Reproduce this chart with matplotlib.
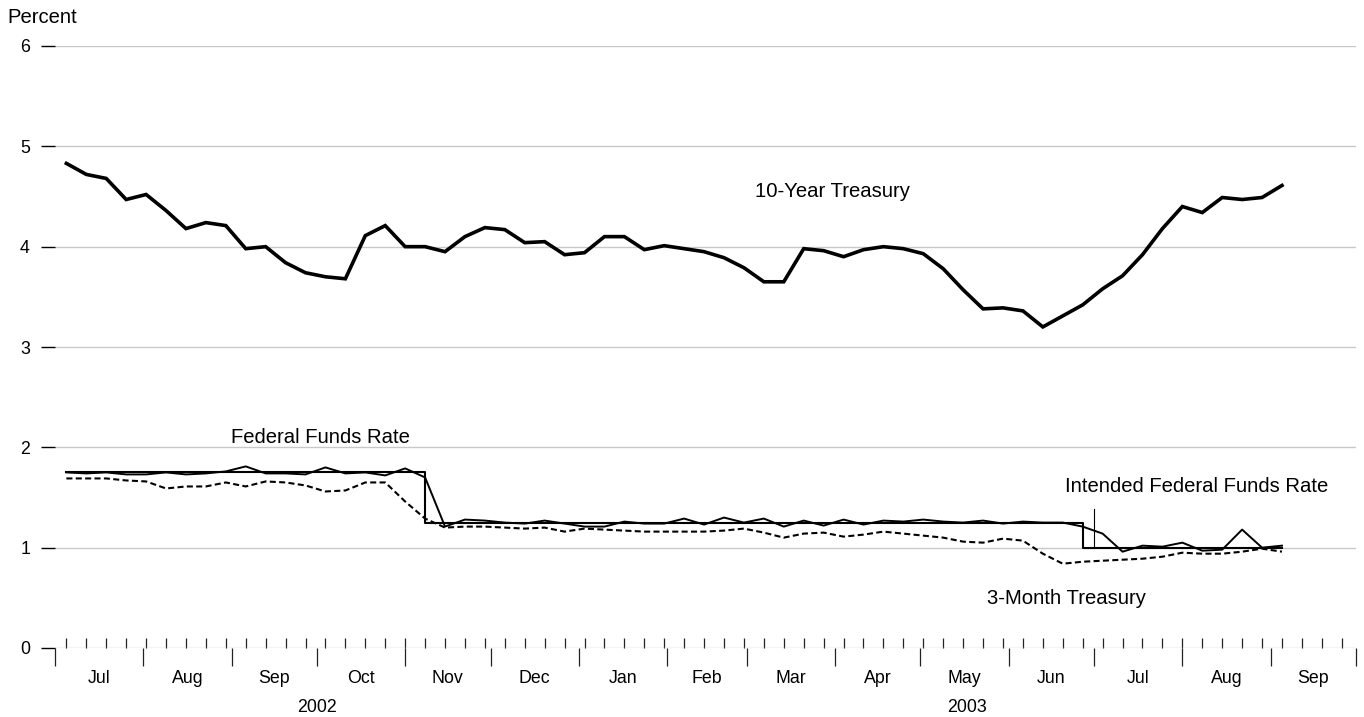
import matplotlib
matplotlib.use("Agg")
import matplotlib.pyplot as plt
import matplotlib.dates as mdates
import matplotlib.transforms as mtransforms
import numpy as np
import pandas as pd

plt.rcParams['font.family'] = ['Liberation Sans', 'DejaVu Sans']

# ---- data (weekly, Fridays, Jul 5 2002 - Sep 5 2003) ----
week_start = "2002-07-05"
n_weeks = 62

ten_year = [4.83, 4.72, 4.68, 4.47, 4.52, 4.36, 4.18, 4.24, 4.21, 3.98,
            4.00, 3.84, 3.74, 3.70, 3.68, 4.11, 4.21, 4.00, 4.00, 3.95,
            4.10, 4.19, 4.17, 4.04, 4.05, 3.92, 3.94, 4.10, 4.10, 3.97,
            4.01, 3.98, 3.95, 3.89, 3.79, 3.65, 3.65, 3.98, 3.96, 3.90,
            3.97, 4.00, 3.98, 3.93, 3.78, 3.57, 3.38, 3.39, 3.36, 3.20,
            3.31, 3.42, 3.58, 3.71, 3.92, 4.18, 4.40, 4.34, 4.49, 4.47,
            4.49, 4.61]

fed_funds = [1.75, 1.74, 1.75, 1.73, 1.73, 1.75, 1.73, 1.74, 1.76, 1.81,
             1.74, 1.74, 1.73, 1.80, 1.74, 1.75, 1.72, 1.79, 1.70, 1.21,
             1.28, 1.27, 1.25, 1.24, 1.27, 1.24, 1.21, 1.21, 1.26, 1.24,
             1.24, 1.29, 1.23, 1.30, 1.25, 1.29, 1.21, 1.27, 1.22, 1.28,
             1.23, 1.27, 1.26, 1.28, 1.26, 1.25, 1.27, 1.24, 1.26, 1.25,
             1.25, 1.21, 1.14, 0.96, 1.02, 1.01, 1.05, 0.97, 0.98, 1.18,
             1.00, 1.02]

three_month = [1.69, 1.69, 1.69, 1.67, 1.66, 1.59, 1.61, 1.61, 1.65, 1.61,
               1.66, 1.65, 1.62, 1.56, 1.57, 1.65, 1.65, 1.46, 1.29, 1.20,
               1.21, 1.21, 1.20, 1.19, 1.20, 1.16, 1.19, 1.18, 1.17, 1.16,
               1.16, 1.16, 1.16, 1.17, 1.19, 1.15, 1.10, 1.14, 1.15, 1.11,
               1.13, 1.16, 1.14, 1.12, 1.10, 1.06, 1.05, 1.09, 1.07, 0.94,
               0.84, 0.86, 0.87, 0.88, 0.89, 0.91, 0.95, 0.94, 0.94, 0.96,
               0.99, 0.96]

intended_levels = [1.75, 1.25, 1.00]
intended_weeks = [18, 33, 11]          # number of weeks at each level

month_labels = ["Jul", "Aug", "Sep", "Oct", "Nov", "Dec", "Jan", "Feb",
                "Mar", "Apr", "May", "Jun", "Jul", "Aug", "Sep"]
year_labels = ["2002", "2003"]
y_ticks = [0, 1, 2, 3, 4, 5, 6]

axis_start = "2002-07-01"
axis_end = "2003-10-01"
leader_date = "2003-07-01"

# ---- build ----
dates = pd.date_range(week_start, periods=n_weeks, freq="W-FRI")
intended = np.repeat(intended_levels, intended_weeks)

W, H = 1364, 717
fig = plt.figure(figsize=(W / 100, H / 100), dpi=100)
L, R, B, T = 55, 1356, 648, 46
ax = fig.add_axes([L / W, 1 - B / H, (R - L) / W, (B - T) / H])

x0, x1 = pd.Timestamp(axis_start), pd.Timestamp(axis_end)
ax.set_xlim(x0, x1)
ax.set_ylim(0, 6)
for s in ax.spines.values():
    s.set_visible(False)

ax.set_axisbelow(True)
ax.yaxis.grid(True, color="#c8c8c8", linewidth=1.0)
ax.set_yticks(y_ticks)
ax.set_yticklabels([str(v) for v in y_ticks])
ax.tick_params(axis="y", length=10, width=1.0, color="black", pad=8,
               labelsize=12.8, direction="out")

ax.xaxis.set_major_locator(mdates.MonthLocator())
ax.xaxis.set_minor_locator(mdates.WeekdayLocator(byweekday=mdates.FR))
ax.xaxis.remove_overlapping_locs = False
ax.xaxis.set_major_formatter(plt.NullFormatter())
ax.xaxis.set_minor_formatter(plt.NullFormatter())
ax.tick_params(axis="x", which="major", direction="out", length=13,
               width=0.9, color="#222222")
ax.tick_params(axis="x", which="minor", direction="in", length=7,
               width=0.9, color="#222222")

ax.plot(dates, intended, drawstyle="steps-post", color="black",
        linewidth=1.5, zorder=3)
ax.plot(dates, fed_funds, color="black", linewidth=1.4, zorder=4)
ax.plot(dates, three_month, color="black", linewidth=1.5,
        linestyle=(0, (2.9, 1.6)), zorder=4)
ax.plot(dates, ten_year, color="black", linewidth=2.6, zorder=5,
        solid_joinstyle="miter")

# leader line for intended rate label
ld = pd.Timestamp(leader_date)
ax.plot([ld, ld], [intended_levels[2], 1.385], color="black",
        linewidth=0.8, zorder=5)

# month & year labels
tr = mtransforms.blended_transform_factory(ax.transData, fig.transFigure)
mstarts = pd.date_range(axis_start, periods=len(month_labels) + 1, freq="MS")
for i, lab in enumerate(month_labels):
    mid = mstarts[i] + (mstarts[i + 1] - mstarts[i]) / 2
    ax.text(mid, 1 - 683 / H, lab, transform=tr, ha="center",
            va="baseline", fontsize=12.8)
ystarts = [x0, pd.Timestamp("2003-01-01"), x1]
for i, lab in enumerate(year_labels):
    mid = ystarts[i] + (ystarts[i + 1] - ystarts[i]) / 2
    ax.text(mid, 1 - 712 / H, lab, transform=tr, ha="center",
            va="baseline", fontsize=12.8)

def axfrac(px, py):
    return (px - L) / (R - L), (B - py) / (B - T)

lab_fs = 14.6
for txt, px, py in [("10-Year Treasury", 755, 197),
                    ("Federal Funds Rate", 231, 443),
                    ("Intended Federal Funds Rate", 1065, 492),
                    ("3-Month Treasury", 987, 604)]:
    xf, yf = axfrac(px, py)
    ax.text(xf, yf, txt, transform=ax.transAxes, ha="left",
            va="baseline", fontsize=lab_fs)

fig.text(7 / W, 1 - 23 / H, "Percent", ha="left", va="baseline",
         fontsize=lab_fs)

fig.savefig("out.png", dpi=100)
